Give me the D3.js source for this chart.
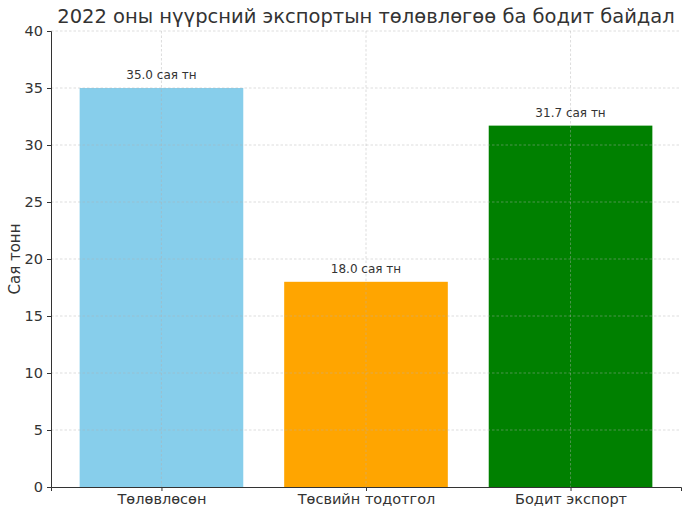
<!DOCTYPE html>
<html>
<head>
<meta charset="utf-8">
<script src="https://cdn.jsdelivr.net/npm/d3@7"></script>
<style>
  body { margin: 0; background: #fff; }
  text { font-family: "DejaVu Sans", sans-serif; }
</style>
</head>
<body>
<div id="chart"></div>
<script>
const categories = ["Төлөвлөсөн", "Төсвийн тодотгол", "Бодит экспорт"];
const values = [35.0, 18.0, 31.7];
const colors = ["#87ceeb", "#ffa500", "#008000"];
const yTicks = [0, 5, 10, 15, 20, 25, 30, 35, 40];

const width = 690;
const height = 515;
const margin = { top: 31, right: 9, bottom: 28, left: 51 };
const innerW = width - margin.left - margin.right;
const innerH = height - margin.top - margin.bottom;

const svg = d3
  .select("#chart")
  .append("svg")
  .attr("width", width)
  .attr("height", height);

const g = svg.append("g").attr("transform", `translate(${margin.left},${margin.top})`);

// matplotlib-like band: bar width 0.8, margin 0.05 of data span
const x = d3.scaleLinear().domain([-0.54, 2.54]).range([0, innerW]);
const y = d3.scaleLinear().domain([0, 40]).range([innerH, 0]);

g.selectAll("rect.bar")
  .data(values)
  .join("rect")
  .attr("class", "bar")
  .attr("x", (d, i) => x(i - 0.4))
  .attr("width", x(0.4) - x(-0.4))
  .attr("y", (d) => y(d))
  .attr("height", (d) => y(0) - y(d))
  .attr("fill", (d, i) => colors[i]);

// grid on top of bars
const grid = g.append("g").attr("stroke", "#b0b0b0").attr("stroke-opacity", 0.55)
  .attr("stroke-dasharray", "2.5,2").attr("stroke-width", 0.8);
grid.selectAll("line.h")
  .data(yTicks.slice(1))
  .join("line")
  .attr("class", "h")
  .attr("x1", 0).attr("x2", innerW)
  .attr("y1", (d) => y(d)).attr("y2", (d) => y(d));
grid.selectAll("line.v")
  .data(categories)
  .join("line")
  .attr("class", "v")
  .attr("x1", (d, i) => x(i)).attr("x2", (d, i) => x(i))
  .attr("y1", 0).attr("y2", innerH);

// value labels
g.selectAll("text.val")
  .data(values)
  .join("text")
  .attr("class", "val")
  .attr("x", (d, i) => x(i))
  .attr("y", (d) => y(d) - 9)
  .attr("text-anchor", "middle")
  .attr("font-size", 12)
  .attr("fill", "#333")
  .text((d) => `${d.toFixed(1)} сая тн`);

// axes
const yAxis = g.append("g")
  .call(d3.axisLeft(y).tickValues(yTicks).tickSize(4).tickPadding(4));
const xAxis = g.append("g")
  .attr("transform", `translate(0,${innerH})`)
  .call(d3.axisBottom(x).tickValues([0, 1, 2]).tickFormat((d) => categories[d]).tickSize(4).tickPadding(3));

[yAxis, xAxis].forEach((a) => {
  a.select(".domain").attr("stroke", "#333").attr("stroke-width", 1);
  a.selectAll(".tick line").attr("stroke", "#333");
  a.selectAll(".tick text").attr("fill", "#333").attr("font-size", 14.5)
    .style("font-family", "DejaVu Sans, sans-serif");
});

// y label
svg.append("text")
  .attr("transform", `translate(20,${margin.top + innerH / 2}) rotate(-90)`)
  .attr("text-anchor", "middle")
  .attr("font-size", 15)
  .attr("fill", "#333")
  .text("Сая тонн");

// title
svg.append("text")
  .attr("x", margin.left + innerW / 2)
  .attr("y", 23)
  .attr("text-anchor", "middle")
  .attr("font-size", 19.5)
  .attr("fill", "#333")
  .text("2022 оны нүүрсний экспортын төлөвлөгөө ба бодит байдал");
</script>
</body>
</html>
